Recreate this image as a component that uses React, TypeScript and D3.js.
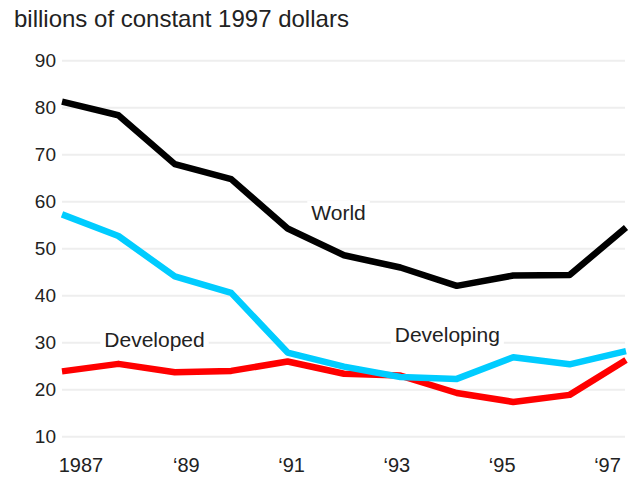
import React, { useLayoutEffect, useRef, useState } from "react";
import * as d3 from "d3";

const years = [1987, 1988, 1989, 1990, 1991, 1992, 1993, 1994, 1995, 1996, 1997];
const world = [81.3, 78.4, 68.0, 64.8, 54.3, 48.6, 46.0, 42.1, 44.3, 44.4, 54.5];
const developing = [57.3, 52.7, 44.1, 40.6, 27.9, 24.9, 22.7, 22.3, 26.9, 25.4, 28.2];
const developed = [23.9, 25.5, 23.7, 24.0, 26.0, 23.4, 23.0, 19.3, 17.4, 18.9, 26.3];
const yTicks = [10, 20, 30, 40, 50, 60, 70, 80, 90];
const xTickLabels = ["1987", "\u201889", "\u201891", "\u201893", "\u201895", "\u201897"];
const title = "billions of constant 1997 dollars";

const seriesList = [
  { name: "World", values: world, color: "#000000", labelYear: 1991.42, labelValue: 56.1 },
  { name: "Developing", values: developing, color: "#00ccff", labelYear: 1992.9, labelValue: 30.1 },
  { name: "Developed", values: developed, color: "#ff0000", labelYear: 1987.75, labelValue: 29.1 },
];

const W = 629;
const H = 477;
const font = "'Liberation Sans', Arial, sans-serif";
const textColor = "#222222";

function Label({ x, y, text }: { x: number; y: number; text: string }) {
  const ref = useRef<SVGTextElement>(null);
  const [box, setBox] = useState<{ x: number; y: number; w: number; h: number } | null>(null);
  useLayoutEffect(() => {
    if (ref.current) {
      const b = ref.current.getBBox();
      setBox({ x: b.x, y: b.y, w: b.width, h: b.height });
    }
  }, [x, y, text]);
  return (
    <g>
      {box && (
        <rect x={box.x - 4} y={box.y} width={box.w + 8} height={box.h} fill="#ffffff" />
      )}
      <text ref={ref} x={x} y={y} fontSize={21} fill={textColor} fontFamily={font}>
        {text}
      </text>
    </g>
  );
}

export default function App() {
  const x = d3.scaleLinear().domain([1987, 1997]).range([62, 626]);
  const y = d3.scaleLinear().domain([10, 90]).range([436.7, 60.7]);
  const xLabel = d3.scalePoint<string>().domain(xTickLabels).range([81, 607.5]);
  const line = d3
    .line<number>()
    .x((_, i) => x(years[i]))
    .y((v) => y(v));

  return (
    <svg
      width={W}
      height={H}
      style={{ position: "absolute", left: 0, top: 0, background: "#fff" }}
    >
      <text x={14} y={27} fontSize={24} fill={textColor} fontFamily={font}>
        {title}
      </text>
      {yTicks.map((t) => (
        <g key={t}>
          <line x1={62} x2={625} y1={y(t)} y2={y(t)} stroke="#eeeeee" strokeWidth={2} />
          <text
            x={56}
            y={y(t)}
            textAnchor="end"
            dominantBaseline="central"
            fontSize={19}
            fill={textColor}
            fontFamily={font}
          >
            {t}
          </text>
        </g>
      ))}
      {xTickLabels.map((l) => (
        <text
          key={l}
          x={xLabel(l)}
          y={472}
          textAnchor="middle"
          fontSize={20}
          fill={textColor}
          fontFamily={font}
        >
          {l}
        </text>
      ))}
      {seriesList
        .slice()
        .reverse()
        .map((s) => (
          <path
            key={s.name}
            d={line(s.values) || ""}
            fill="none"
            stroke={s.color}
            strokeWidth={6.5}
            strokeLinejoin="round"
          />
        ))}
      {seriesList.map((s) => (
        <Label key={s.name} x={x(s.labelYear)} y={y(s.labelValue)} text={s.name} />
      ))}
    </svg>
  );
}
